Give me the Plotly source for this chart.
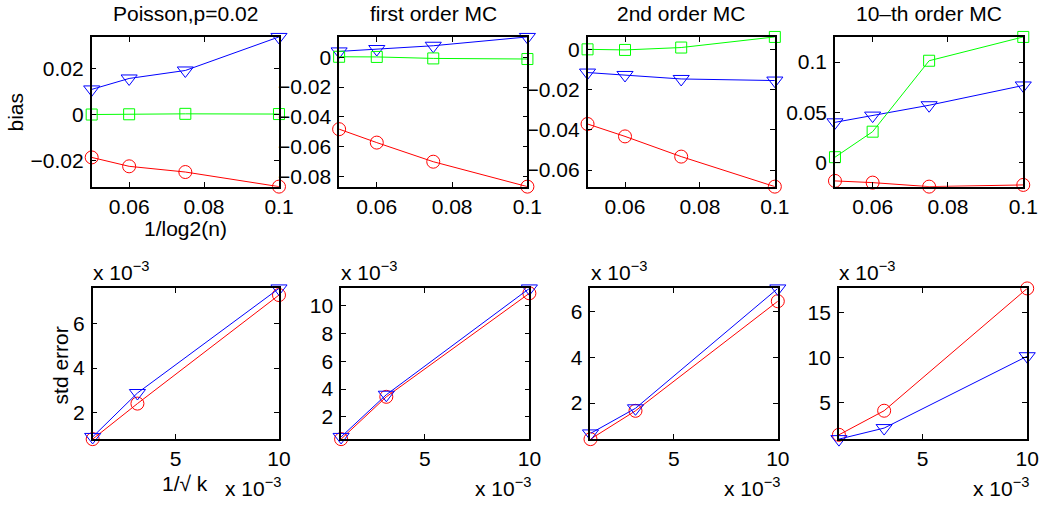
import plotly.graph_objects as go

# ---------------- data ----------------
x_top = [0.05, 0.06, 0.075, 0.1]
top_titles = ["Poisson,p=0.02", "first order MC", "2nd order MC", "10\u2013th order MC"]

# bias (top row): triangle (blue), square (green), circle (red)
bias_blue = [
    [0.0110, 0.0158, 0.0193, 0.0340],
    [0.0039, 0.0055, 0.0077, 0.0136],
    [-0.0113, -0.0125, -0.0145, -0.0153],
    [0.0400, 0.0467, 0.0570, 0.0767],
]
bias_green = [
    [0.0000, 0.0001, 0.0003, 0.0002],
    [0.0003, 0.0002, -0.0008, -0.0012],
    [0.0003, 0.0000, 0.0012, 0.0065],
    [0.0053, 0.0307, 0.1013, 0.1250],
]
bias_red = [
    [-0.0188, -0.0227, -0.0252, -0.0316],
    [-0.0482, -0.0572, -0.0700, -0.0867],
    [-0.0370, -0.0432, -0.0533, -0.0683],
    [-0.0183, -0.0200, -0.0240, -0.0223],
]
top_yticks = [
    [-0.02, 0, 0.02],
    [-0.08, -0.06, -0.04, -0.02, 0],
    [-0.06, -0.04, -0.02, 0],
    [0, 0.05, 0.1],
]
top_yticktext = [
    ["\u22120.02", "0", "0.02"],
    ["\u22120.08", "\u22120.06", "\u22120.04", "\u22120.02", "0"],
    ["\u22120.06", "\u22120.04", "\u22120.02", "0"],
    ["0", "0.05", "0.1"],
]
top_xticks = [0.06, 0.08, 0.1]
top_xticktext = ["0.06", "0.08", "0.1"]

# std error (bottom row): circle (red), triangle (blue)
x_bot = [0.001, 0.003162, 0.01]
std_red = [
    [0.00078, 0.00239, 0.00731],
    [0.00039, 0.00344, 0.01090],
    [0.00042, 0.00166, 0.00646],
    [0.00145, 0.00413, 0.01773],
]
std_blue = [
    [0.00088, 0.00287, 0.00761],
    [0.00055, 0.00359, 0.01125],
    [0.00067, 0.00177, 0.00702],
    [0.00097, 0.00220, 0.01019],
]
bot_yticks = [
    [0.002, 0.004, 0.006],
    [0.002, 0.004, 0.006, 0.008, 0.010],
    [0.002, 0.004, 0.006],
    [0.005, 0.010, 0.015],
]
bot_yticktext = [
    ["2", "4", "6"],
    ["2", "4", "6", "8", "10"],
    ["2", "4", "6"],
    ["5", "10", "15"],
]
bot_xticks = [0.005, 0.01]
bot_xticktext = ["5", "10"]

# ---------------- layout geometry ----------------
W, H = 1057, 507
top_px = [(93, 283), (344, 535), (596, 786), (847, 1038)]
bot_px = [(94, 283), (346, 537), (599, 789), (851, 1042)]
top_y = (37, 187)
bot_y = (289, 440)

FONT = "Liberation Sans"
FS = 21
RED, BLUE, GREEN = "#ff0000", "#0000ff", "#00ff00"

fig = go.Figure()


def xd(px):
    return [px[0] / W, px[1] / W]


def yd(py):
    return [1 - py[1] / H, 1 - py[0] / H]


def axis_common():
    return dict(
        showline=True, linecolor="black", linewidth=1.5, mirror="allticks",
        ticks="inside", ticklen=5, tickwidth=1, tickcolor="black",
        showgrid=False, zeroline=False,
        tickfont=dict(family=FONT, size=FS, color="black"),
    )


def line(x, y, color, symbol, size, xa, ya):
    fig.add_trace(go.Scatter(
        x=x, y=y, mode="lines+markers", xaxis=xa, yaxis=ya, showlegend=False,
        cliponaxis=False,
        line=dict(color=color, width=1),
        marker=dict(symbol=symbol, size=size, color=color,
                    line=dict(color=color, width=1)),
    ))


layout = {}
annotations = []
for i in range(4):
    # ---- top row ----
    n = i + 1
    xa, ya = f"x{n}", f"y{n}"
    line(x_top, bias_blue[i], BLUE, "triangle-down-open", 14, xa, ya)
    line(x_top, bias_green[i], GREEN, "square-open", 11, xa, ya)
    line(x_top, bias_red[i], RED, "circle-open", 13, xa, ya)
    allv = bias_blue[i] + bias_green[i] + bias_red[i]
    ax = axis_common()
    ax.update(domain=xd(top_px[i]), anchor=ya, range=[min(x_top), max(x_top)],
              tickvals=top_xticks, ticktext=top_xticktext)
    ay = axis_common()
    ay.update(domain=yd(top_y), anchor=xa, range=[min(allv), max(allv)],
              tickvals=top_yticks[i], ticktext=top_yticktext[i], ticklabelstandoff=2)
    layout[f"xaxis{n}"] = ax
    layout[f"yaxis{n}"] = ay
    annotations.append(dict(
        text=top_titles[i], xref="paper", yref="paper",
        x=sum(xd(top_px[i])) / 2, y=1 - 14 / H, xanchor="center", yanchor="middle",
        showarrow=False, font=dict(family=FONT, size=FS, color="black")))

    # ---- bottom row ----
    n = i + 5
    xa, ya = f"x{n}", f"y{n}"
    line(x_bot, std_red[i], RED, "circle-open", 13, xa, ya)
    line(x_bot, std_blue[i], BLUE, "triangle-down-open", 14, xa, ya)
    allv = std_red[i] + std_blue[i]
    ax = axis_common()
    ax.update(domain=xd(bot_px[i]), anchor=ya, range=[min(x_bot), max(x_bot)],
              tickvals=bot_xticks, ticktext=bot_xticktext)
    ay = axis_common()
    ay.update(domain=yd(bot_y), anchor=xa, range=[min(allv), max(allv)],
              tickvals=bot_yticks[i], ticktext=bot_yticktext[i], ticklabelstandoff=2)
    layout[f"xaxis{n}"] = ax
    layout[f"yaxis{n}"] = ay
    # exponent labels
    annotations.append(dict(
        text="x 10<sup>\u22123</sup>", xref="paper", yref="paper",
        x=(bot_px[i][0] - 2) / W, y=1 - (bot_y[0] - 2) / H, xanchor="left", yanchor="bottom",
        showarrow=False, font=dict(family=FONT, size=FS, color="black")))
    annotations.append(dict(
        text="x 10<sup>\u22123</sup>", xref="paper", yref="paper",
        x=(bot_px[i][1] + 4) / W, y=1 - 503 / H, xanchor="right", yanchor="bottom",
        showarrow=False, font=dict(family=FONT, size=FS, color="black")))

# axis titles
annotations += [
    dict(text="bias", xref="paper", yref="paper", x=16 / W, y=1 - 112 / H,
         textangle=-90, xanchor="center", yanchor="middle", showarrow=False,
         font=dict(family=FONT, size=FS, color="black")),
    dict(text="1/log2(n)", xref="paper", yref="paper", x=188 / W, y=1 - 229 / H,
         xanchor="center", yanchor="middle", showarrow=False,
         font=dict(family=FONT, size=FS, color="black")),
    dict(text="std error", xref="paper", yref="paper", x=61 / W, y=1 - 366 / H,
         textangle=-90, xanchor="center", yanchor="middle", showarrow=False,
         font=dict(family=FONT, size=FS, color="black")),
    dict(text="1/\u221a k", xref="paper", yref="paper", x=188 / W, y=1 - 484 / H,
         xanchor="center", yanchor="middle", showarrow=False,
         font=dict(family=FONT, size=FS, color="black")),
]

fig.update_layout(
    width=W, height=H, margin=dict(l=0, r=0, t=0, b=0),
    paper_bgcolor="white", plot_bgcolor="white",
    annotations=annotations, **layout,
)

fig.write_html("out.html", config={"displayModeBar": False},
               post_script="document.body.style.margin='0';")
